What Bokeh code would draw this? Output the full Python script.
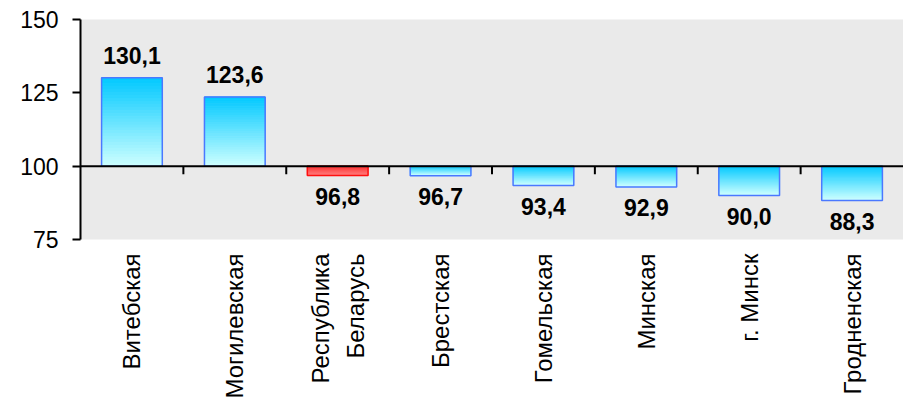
import math
from bokeh.plotting import figure
from bokeh.models import Range1d, FixedTicker, Span, ColumnDataSource
from bokeh.core.properties import value
from bokeh.embed import file_html
from bokeh.resources import INLINE

# ---- data ----
categories = ["Витебская", "Могилевская", "Республика\nБеларусь", "Брестская",
              "Гомельская", "Минская", "г. Минск", "Гродненская"]
values = [130.1, 123.6, 96.8, 96.7, 93.4, 92.9, 90.0, 88.3]
highlight = "Республика\nБеларусь"
y_ticks = [75, 100, 125, 150]
baseline = 100

FONT = "Liberation Sans"

n = len(categories)
centers = [i + 0.5 for i in range(n)]
labels = [f"{v:.1f}".replace(".", ",") for v in values]

p = figure(width=903, height=401, x_range=Range1d(0, n), y_range=Range1d(75, 150),
           output_backend="svg", toolbar_location=None,
           min_border_left=80, min_border_right=0, min_border_top=19, min_border_bottom=162)
p.background_fill_color = "#eaeaea"
p.border_fill_color = "white"
p.outline_line_color = None
p.grid.visible = False


def lerp(c1, c2, t):
    return "#%02x%02x%02x" % tuple(int(round(a + (b - a) * t)) for a, b in zip(c1, c2))


# gradient bars built from slices
N = 30
half = 0.295
left, right, bottom, top, colors = [], [], [], [], []
for cat, x, v in zip(categories, centers, values):
    hi, lo = max(v, baseline), min(v, baseline)
    if cat == highlight:
        c_top, c_bot = (255, 45, 45), (255, 125, 125)
    else:
        c_top, c_bot = (0, 200, 255), (205, 255, 255)
    h = (hi - lo) / N
    for k in range(N):
        t1 = hi - k * h
        left.append(x - half); right.append(x + half)
        top.append(t1); bottom.append(t1 - h)
        colors.append(lerp(c_top, c_bot, (k + 0.5) / N))
p.quad(left=left, right=right, bottom=bottom, top=top, fill_color=colors,
       line_color=colors, line_width=1)

outline_colors = ["#ff1010" if c == highlight else "#4a78ff" for c in categories]
p.vbar(x=centers, width=2 * half, top=values, bottom=baseline, fill_color=None,
       line_color=outline_colors, line_width=1.5)

# baseline axis at 100 with category-boundary ticks
p.add_layout(Span(location=baseline, dimension="width", line_color="black", line_width=2))
tick_len = 8 * 75 / 220
bx = list(range(1, n))
p.segment(x0=bx, x1=bx, y0=[baseline] * len(bx), y1=[baseline - tick_len] * len(bx),
          line_color="black", line_width=2)

# value labels
src = ColumnDataSource(dict(
    x=centers, y=values, text=labels,
    off=[-22 if v >= baseline else 21 for v in values]))
p.text(x="x", y="y", text="text", y_offset="off", source=src,
       text_align="center", text_baseline="middle",
       text_font=value(FONT), text_font_size="23px", text_font_style="bold",
       text_color="black")

# y axis
yax = p.yaxis[0]
yax.ticker = FixedTicker(ticks=y_ticks)
yax.axis_line_color = "black"
yax.axis_line_width = 2
yax.major_tick_line_color = "black"
yax.major_tick_line_width = 2
yax.major_tick_out = 8
yax.major_tick_in = 0
yax.minor_tick_line_color = None
yax.major_label_standoff = 14
yax.major_label_text_font = FONT
yax.major_label_text_font_size = "23px"
yax.major_label_text_color = "black"

# x axis (category labels)
xax = p.xaxis[0]
xax.ticker = FixedTicker(ticks=centers)
xax.major_label_overrides = {c: cat for c, cat in zip(centers, categories)}
xax.axis_line_color = None
xax.major_tick_line_color = None
xax.minor_tick_line_color = None
xax.major_tick_out = 0
xax.major_tick_in = 0
xax.major_label_standoff = 14
xax.major_label_orientation = math.pi / 2
xax.major_label_text_font = FONT
xax.major_label_text_font_size = "24px"
xax.major_label_text_color = "black"
xax.major_label_text_line_height = 1.3

open("out.html", "w").write(file_html(p, INLINE))
